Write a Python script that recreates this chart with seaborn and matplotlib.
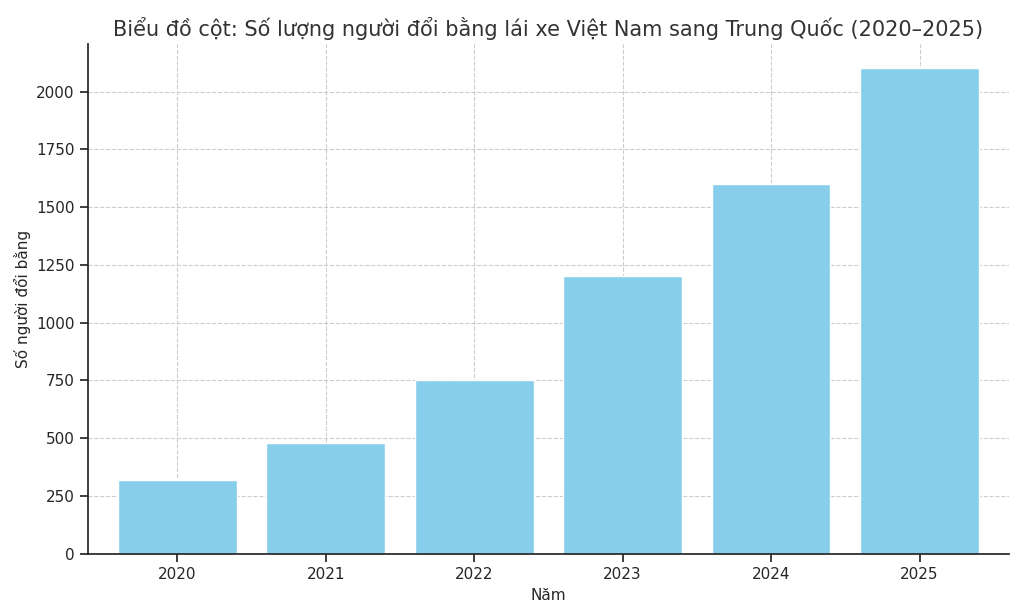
import matplotlib
matplotlib.use("Agg")
import matplotlib.pyplot as plt
import seaborn as sns
import pandas as pd

years = ["2020", "2021", "2022", "2023", "2024", "2025"]
counts = [320, 480, 750, 1200, 1600, 2100]

sns.set_theme(style="ticks")
plt.rcParams['font.family'] = ['DejaVu Sans']

df = pd.DataFrame({"Năm": years, "Số người đổi bằng": counts})
fig = plt.figure(figsize=(10.24, 6.14), dpi=100)
ax = fig.add_axes([0.086, 0.098, 0.899, 0.83])
sns.barplot(data=df, x="Năm", y="Số người đổi bằng", color="#87CEEB", saturation=1, width=0.8, ax=ax)
ax.set_axisbelow(True)
ax.grid(True, linestyle="--", color="#cccccc", linewidth=0.8)
ax.set_ylim(0, 2205)
ax.set_xlim(-0.6, 5.6)
for s in ["top", "right"]:
    ax.spines[s].set_visible(False)
ax.tick_params(labelsize=11)
ax.set_xlabel("Năm", fontsize=11)
ax.set_ylabel("Số người đổi bằng", fontsize=11)
ax.set_title("Biểu đồ cột: Số lượng người đổi bằng lái xe Việt Nam sang Trung Quốc (2020–2025)", fontsize=15, color="#333333")
fig.savefig("out.png", dpi=100)
